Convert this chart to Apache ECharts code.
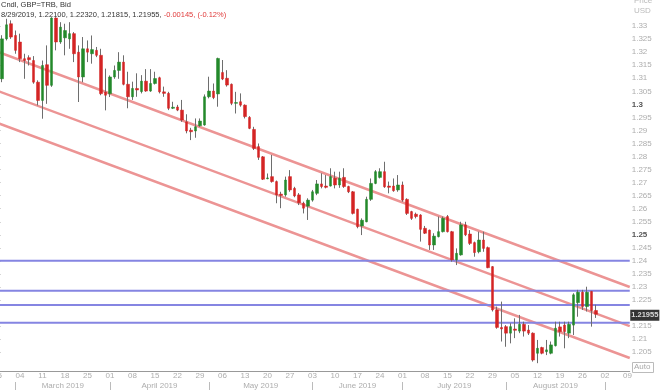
<!DOCTYPE html>
<html><head><meta charset="utf-8">
<script src="https://cdn.jsdelivr.net/npm/echarts@6/dist/echarts.min.js"></script>
<style>html,body{margin:0;padding:0;background:#fff}#c{width:660px;height:392px}</style>
</head><body><div id="c"></div>
<script>
// ---- categories: trading days (weekdays) ----
const startDate = '2019-02-25', endDate = '2019-09-09';
function weekdays(a, b) {
  const out = []; let d = new Date(a + 'T00:00:00Z'); const e = new Date(b + 'T00:00:00Z');
  while (d <= e) { const w = d.getUTCDay(); if (w > 0 && w < 6) out.push(d.toISOString().slice(0, 10)); d = new Date(d.getTime() + 86400000); }
  return out;
}
const dates = weekdays(startDate, endDate);

// ---- OHLC values ----
const open = [1.3060,1.3098,1.3251,1.3309,1.3264,1.3239,1.3175,1.3179,1.3168,1.3085,
1.3015,1.3152,1.3073,1.3331,1.3239,1.3255,1.3251,1.3271,1.3200,1.3105,
1.3213,1.3194,1.3207,1.3188,1.3047,1.3041,1.3105,1.3130,1.3162,1.3077,
1.3029,1.3061,1.3049,1.3089,1.3051,1.3080,1.3102,1.3048,1.3042,1.2985,
1.2990,1.2978,1.2933,1.2901,1.2898,1.2918,1.2921,1.3029,1.3051,1.3040,
1.3122,1.3100,1.3077,1.3004,1.3010,1.2997,1.2950,1.2904,1.2838,1.2799,
1.2715,1.2723,1.2704,1.2656,1.2653,1.2723,1.2678,1.2653,1.2621,1.2610,
1.2633,1.2659,1.2695,1.2687,1.2687,1.2717,1.2691,1.2720,1.2685,1.2665,
1.2598,1.2534,1.2550,1.2636,1.2697,1.2720,1.2742,1.2687,1.2687,1.2672,
1.2691,1.2636,1.2589,1.2579,1.2576,1.2525,1.2518,1.2461,1.2493,1.2512,
1.2570,1.2512,1.2404,1.2423,1.2538,1.2503,1.2470,1.2435,1.2480,1.2451,
1.2378,1.2212,1.2145,1.2148,1.2123,1.2139,1.2131,1.2157,1.2135,1.2123,
1.2046,1.2068,1.2052,1.2046,1.2075,1.2147,1.2154,1.2123,1.2154,1.2240,
1.2280,1.2225,1.2283,1.22100];
const high = [1.3115,1.3265,1.3328,1.3322,1.3283,1.3271,1.3194,1.3188,1.3185,1.3092,
1.3168,1.3226,1.3334,1.3334,1.3315,1.3309,1.3315,1.3277,1.3226,1.3258,
1.3245,1.3264,1.3220,1.3213,1.3137,1.3111,1.3149,1.3200,1.3188,1.3125,
1.3087,1.3119,1.3112,1.3135,1.3135,1.3125,1.3106,1.3068,1.3048,1.3010,
1.2998,1.3017,1.2962,1.2910,1.2946,1.2946,1.3038,1.3106,1.3080,1.3179,
1.3170,1.3131,1.3080,1.3048,1.3042,1.3000,1.2955,1.2914,1.2850,1.2802,
1.2735,1.2806,1.2708,1.2665,1.2723,1.2748,1.2684,1.2660,1.2627,1.2640,
1.2672,1.2710,1.2736,1.2729,1.2755,1.2742,1.2742,1.2755,1.2688,1.2668,
1.2600,1.2563,1.2646,1.2716,1.2748,1.2755,1.2780,1.2704,1.2716,1.2729,
1.2704,1.2640,1.2592,1.2585,1.2579,1.2534,1.2520,1.2506,1.2570,1.2570,
1.2576,1.2515,1.2448,1.2550,1.2550,1.2518,1.2474,1.2512,1.2512,1.2455,
1.2380,1.2225,1.2244,1.2154,1.2161,1.2180,1.2193,1.2167,1.2154,1.2126,
1.2097,1.2071,1.2097,1.2091,1.2167,1.2167,1.2167,1.2167,1.2276,1.2289,
1.2289,1.2301,1.2285,1.22320];
const low = [1.3045,1.3085,1.3245,1.3251,1.3194,1.3162,1.3098,1.3149,1.3079,1.2996,
1.2945,1.3002,1.3067,1.3207,1.3232,1.3188,1.3213,1.3162,1.3009,1.3085,
1.3162,1.3156,1.3181,1.3035,1.2977,1.3028,1.3098,1.3098,1.3073,1.2985,
1.3017,1.3029,1.3042,1.3048,1.3048,1.3076,1.3042,1.3029,1.2978,1.2982,
1.2974,1.2933,1.2889,1.2863,1.2872,1.2914,1.2918,1.3023,1.3020,1.2991,
1.3093,1.3068,1.2997,1.2965,1.2991,1.2946,1.2905,1.2825,1.2787,1.2710,
1.2713,1.2700,1.2621,1.2602,1.2646,1.2665,1.2644,1.2614,1.2582,1.2557,
1.2627,1.2652,1.2678,1.2678,1.2685,1.2678,1.2680,1.2680,1.2660,1.2578,
1.2525,1.2499,1.2548,1.2630,1.2694,1.2716,1.2680,1.2659,1.2665,1.2665,
1.2627,1.2576,1.2557,1.2563,1.2474,1.2503,1.2442,1.2442,1.2490,1.2509,
1.2509,1.2397,1.2384,1.2420,1.2495,1.2461,1.2416,1.2429,1.2435,1.2372,
1.2206,1.2140,1.2091,1.2071,1.2084,1.2104,1.2123,1.2110,1.2116,1.2014,
1.2008,1.2042,1.2039,1.2042,1.2072,1.2110,1.2065,1.2104,1.2116,1.2186,
1.2212,1.2206,1.2148,1.21815];
const close = [1.3098,1.3251,1.3305,1.3258,1.3207,1.3175,1.3168,1.3171,1.3085,1.3015,
1.3149,1.3073,1.3331,1.3239,1.3296,1.3283,1.3271,1.3194,1.3105,1.3213,
1.3200,1.3210,1.3188,1.3041,1.3035,1.3105,1.3130,1.3162,1.3077,1.3029,
1.3061,1.3055,1.3089,1.3051,1.3080,1.3099,1.3048,1.3042,1.2985,1.2989,
1.2978,1.2940,1.2898,1.2895,1.2914,1.2936,1.3029,1.3051,1.3026,1.3176,
1.3097,1.3074,1.3004,1.3007,1.2997,1.2953,1.2908,1.2831,1.2797,1.2713,
1.2718,1.2704,1.2653,1.2651,1.2710,1.2672,1.2649,1.2623,1.2602,1.2633,
1.2665,1.2695,1.2685,1.2682,1.2723,1.2691,1.2717,1.2685,1.2665,1.2582,
1.2531,1.2556,1.2636,1.2697,1.2742,1.2742,1.2684,1.2682,1.2669,1.2691,
1.2633,1.2582,1.2563,1.2570,1.2521,1.2506,1.2461,1.2495,1.2512,1.2563,
1.2512,1.2404,1.2429,1.2538,1.2500,1.2467,1.2432,1.2480,1.2448,1.2374,
1.2212,1.2145,1.2139,1.2123,1.2148,1.2134,1.2157,1.2131,1.2123,1.2020,
1.2065,1.2046,1.2059,1.2078,1.2142,1.2129,1.2129,1.2157,1.2270,1.2280,
1.2225,1.2280,1.2210,1.21955];

// ---- channel trend lines: price at left edge and at right edge of plot ----
const channelStart = [1.3205, 1.3055, 1.2932];
const channelEnd   = [1.2300, 1.2150, 1.2028];
// ---- horizontal support / resistance levels ----
const levels = [1.2401, 1.2286, 1.2231, 1.2163];
// ---- price axis tick labels ----
const yTicks = [1.205,1.21,1.215,1.225,1.23,1.235,1.24,1.245,1.25,1.255,1.26,1.265,1.27,1.275,1.28,1.285,1.29,1.295,1.3,1.305,1.31,1.315,1.32,1.325,1.33];
const boldTicks = ['1.3', '1.25'];
const monthNames = ['January','February','March','April','May','June','July','August','September','October','November','December'];

// ---- derived ----
const N = dates.length;
const last = open.length - 1;
const dow = d => new Date(d + 'T00:00:00Z').getUTCDay();
const monthStarts = [];
for (let i = 1; i < N; i++) if (dates[i].slice(5, 7) !== dates[i - 1].slice(5, 7)) monthStarts.push(i);
const monthMid = {}; const monthMids = [];
for (let k = 0; k < monthStarts.length - 1; k++) {
  const m = (monthStarts[k] + monthStarts[k + 1]) / 2;
  const d = dates[monthStarts[k]];
  monthMids.push(m); monthMid[m] = monthNames[+d.slice(5, 7) - 1] + ' ' + d.slice(0, 4);
}
const wickData = dates.map((d, i) => i <= last ? [open[i], close[i], low[i], high[i]] : '-');
const bodyData = dates.map((d, i) => i <= last ? [open[i], close[i], Math.min(open[i], close[i]), Math.max(open[i], close[i])] : '-');
const chg = close[last] - open[last];
const ld = dates[last];
const headDate = (+ld.slice(5, 7)) + '/' + (+ld.slice(8, 10)) + '/' + ld.slice(0, 4);
const headText = 'Cndl, GBP=TRB, Bid\n' + headDate + ', ' + open[last].toFixed(5) + ', ' + high[last].toFixed(5) + ', ' +
  low[last].toFixed(5) + ', ' + close[last].toFixed(5) + ', {r|' + chg.toFixed(5) + ', (' + (chg / open[last] * 100).toFixed(2) + '%)}';

const FONT = 'Liberation Sans';
const UP = '#23892a', DOWN = '#d42424', WICK = '#6e6e6e';

const chart = echarts.init(document.getElementById('c'), null, { renderer: 'canvas' });
const series = [];
channelStart.forEach((s, k) => series.push({
  type: 'line', xAxisIndex: 1, yAxisIndex: 0, z: 1, silent: true, symbol: 'none',
  data: [[-0.5, s], [N - 0.5, channelEnd[k]]],
  lineStyle: { color: '#ec9494', width: 2.5 }
}));
levels.forEach(v => series.push({
  type: 'line', xAxisIndex: 1, yAxisIndex: 0, z: 1, silent: true, symbol: 'none',
  data: [[-0.5, v], [N - 0.5, v]],
  lineStyle: { color: '#8585e2', width: 2 }
}));
series.push({
  type: 'candlestick', xAxisIndex: 0, z: 3, silent: true, barWidth: 1, data: wickData,
  itemStyle: { color: WICK, color0: WICK, borderColor: WICK, borderColor0: WICK, borderWidth: 1 }
});
series.push({
  type: 'candlestick', xAxisIndex: 0, z: 4, silent: true, barWidth: 3, data: bodyData,
  itemStyle: { color: UP, color0: DOWN, borderColor: UP, borderColor0: DOWN, borderWidth: 0.5 }
});
// current price tag at the right edge of the plot
series.push({
  type: 'scatter', xAxisIndex: 1, yAxisIndex: 0, z: 10, silent: true, clip: false,
  symbol: 'rect', symbolSize: 1,
  data: [[N - 0.5, close[last]]],
  itemStyle: { color: 'rgba(0,0,0,0)' },
  label: { show: true, position: 'right', distance: 0, offset: [0, 1], formatter: close[last].toFixed(5),
    backgroundColor: '#000', color: '#fff', fontWeight: 'bold', fontSize: 7.5, fontFamily: FONT, padding: [2, 1, 1, 1] }
});

chart.setOption({
  animation: false,
  backgroundColor: '#fff',
  title: { text: headText, left: 1, top: 0, padding: 0,
    textStyle: { fontSize: 7.5, fontWeight: 'normal', color: '#333', lineHeight: 10, fontFamily: FONT,
      rich: { r: { color: '#e03a3a', fontSize: 7.5, fontFamily: FONT, lineHeight: 10 } } } },
  grid: { left: -4.75, width: N * 4.5, top: 0, height: 371, containLabel: false, outerBoundsMode: 'none' },
  xAxis: [{
    type: 'category', data: dates, position: 'bottom',
    axisLine: { show: true, lineStyle: { color: '#999', width: 1 } },
    axisTick: { show: false },
    splitLine: { show: false },
    axisLabel: { interval: (i, v) => dow(v) === 1, formatter: v => v.slice(8, 10),
      color: '#adadad', fontSize: 8, fontFamily: FONT, margin: 1 }
  }, {
    type: 'value', min: -0.5, max: N - 0.5, position: 'bottom', offset: 11,
    axisLine: { show: false }, splitLine: { show: false },
    axisTick: { show: true, customValues: monthStarts, length: 8, lineStyle: { color: '#bbb' } },
    axisLabel: { show: true, customValues: monthMids, formatter: v => monthMid[v] || '',
      color: '#adadad', fontSize: 8, fontFamily: FONT, margin: 0 }
  }],
  yAxis: [{
    type: 'value', position: 'right', min: 1.1978, max: 1.34, scale: true,
    axisLine: { show: true, lineStyle: { color: '#999' } },
    splitLine: { show: false },
    axisTick: { show: true, customValues: yTicks, length: 3, lineStyle: { color: '#aaa' } },
    axisLabel: { customValues: yTicks, margin: 2, color: '#adadad', fontSize: 8, fontFamily: FONT,
      formatter: v => { const s = String(+(+v).toFixed(3)); return boldTicks.includes(s) ? '{b|' + s + '}' : s; },
      rich: { b: { fontWeight: 'bold', color: '#555', fontSize: 8, fontFamily: FONT } } }
  }],
  graphic: [
    { type: 'text', left: 634, top: -3, style: { text: 'Price', fill: '#bbb', fontSize: 8, fontFamily: FONT } },
    { type: 'text', left: 634, top: 7, style: { text: 'USD', fill: '#bbb', fontSize: 8, fontFamily: FONT } },
    { type: 'rect', left: 632, top: 362, shape: { width: 21, height: 10 }, style: { fill: '#fff', stroke: '#bbb', lineWidth: 1 } },
    { type: 'text', left: 634, top: 363, style: { text: 'Auto', fill: '#aaa', fontSize: 8, fontFamily: FONT } }
  ],
  series: series
});
</script></body></html>
